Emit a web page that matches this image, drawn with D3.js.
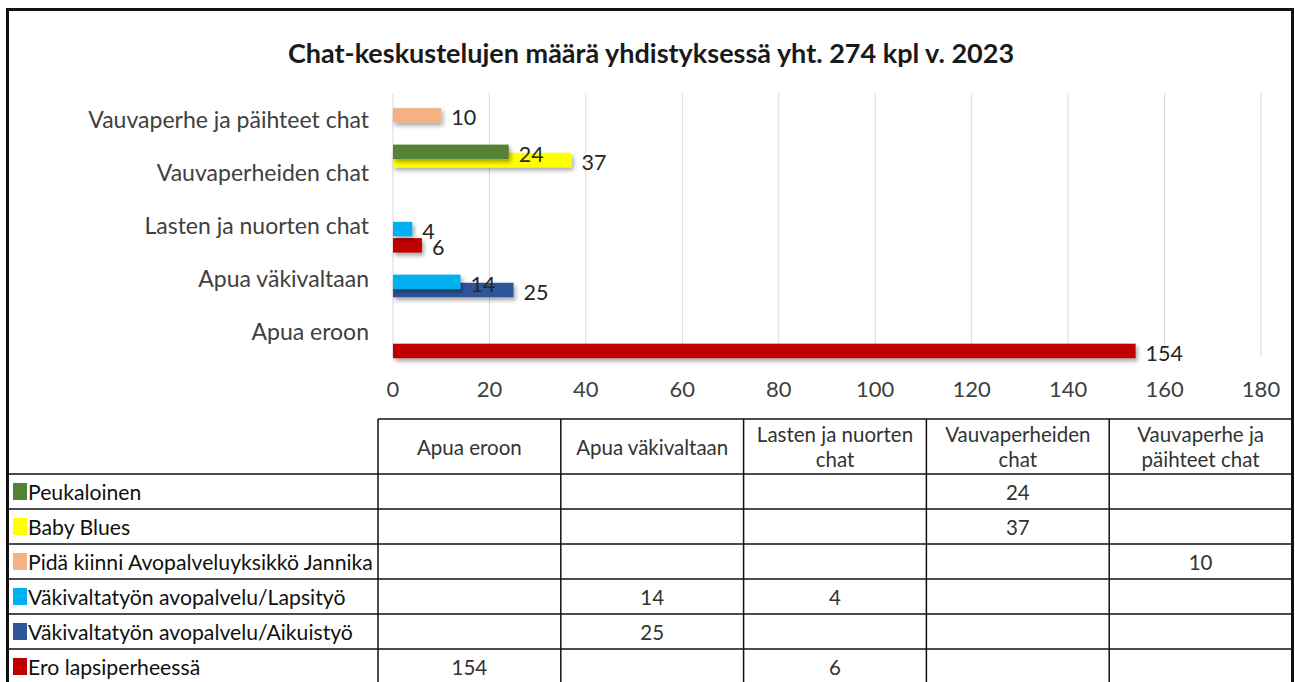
<!DOCTYPE html>
<html><head><meta charset="utf-8">
<script src="https://cdn.jsdelivr.net/npm/d3@7"></script>
<style>body{margin:0;background:#fff} svg{display:block} text{font-family:Lato, "Open Sans", sans-serif}</style>
</head><body><svg id="c" width="1295" height="682"></svg>
<script>
// ---- data ----
const title = "Chat-keskustelujen määrä yhdistyksessä yht. 274 kpl v. 2023";
const categories = ["Apua eroon", "Apua väkivaltaan", "Lasten ja nuorten chat", "Vauvaperheiden chat", "Vauvaperhe ja päihteet chat"];
const tableHeaders = [["Apua eroon"], ["Apua väkivaltaan"], ["Lasten ja nuorten", "chat"], ["Vauvaperheiden", "chat"], ["Vauvaperhe ja", "päihteet chat"]];
const seriesNames = ["Peukaloinen", "Baby Blues", "Pidä kiinni Avopalveluyksikkö Jannika", "Väkivaltatyön avopalvelu/Lapsityö", "Väkivaltatyön avopalvelu/Aikuistyö", "Ero lapsiperheessä"];
const peukaloinen = [null, null, null, 24, null];
const babyBlues = [null, null, null, 37, null];
const pidaKiinni = [null, null, null, null, 10];
const lapsityo = [null, 14, 4, null, null];
const aikuistyo = [null, 25, null, null, null];
const eroLapsiperheessa = [154, null, 6, null, null];
const seriesColors = ["#548235", "#ffff00", "#f4b183", "#00b0f0", "#2f5597", "#c00000"];
const xTicks = [0, 20, 40, 60, 80, 100, 120, 140, 160, 180];

const seriesValues = [peukaloinen, babyBlues, pidaKiinni, lapsityo, aikuistyo, eroLapsiperheessa];
const series = seriesNames.map((name, i) => ({name, color: seriesColors[i], values: seriesValues[i]}));

// ---- layout ----
const svg = d3.select("#c");
const plotTop = 93, plotBottom = 357;
const x = d3.scaleLinear().domain([0, 180]).range([393, 1261]);
const y = d3.scaleBand().domain(categories).range([plotBottom, plotTop]);
const barH = 14.5;
const sub = d3.scalePoint().domain(seriesNames).range([-1.2, y.bandwidth() - barH + 1.2]);

const defs = svg.append("defs");
const f = defs.append("filter").attr("id", "sh").attr("x", "-10%").attr("y", "-50%").attr("width", "130%").attr("height", "250%");
f.append("feDropShadow").attr("dx", 2).attr("dy", 3).attr("stdDeviation", 2).attr("flood-color", "#000").attr("flood-opacity", 0.35);

// frame
svg.append("rect").attr("x", 7.5).attr("y", 9.5).attr("width", 1285).attr("height", 690)
  .attr("fill", "none").attr("stroke", "#111").attr("stroke-width", 3);

// title
svg.append("text").attr("x", 651).attr("y", 52).attr("text-anchor", "middle").attr("dominant-baseline", "central")
  .attr("font-size", 27).attr("font-weight", "bold").attr("fill", "#1a1a1a").text(title);

// gridlines
svg.append("g").selectAll("line").data(xTicks).join("line")
  .attr("x1", d => x(d)).attr("x2", d => x(d)).attr("y1", plotTop).attr("y2", plotBottom)
  .attr("stroke", "#d9d9d9").attr("stroke-width", 1);

// tick labels
svg.append("g").selectAll("text").data(xTicks).join("text")
  .attr("x", d => x(d)).attr("y", 388).attr("text-anchor", "middle").attr("dominant-baseline", "central")
  .attr("font-size", 22).attr("fill", "#404040").text(d => d);

// category labels
svg.append("g").selectAll("text").data(categories).join("text")
  .attr("x", 369).attr("y", d => y(d) + y.bandwidth() / 2).attr("text-anchor", "end").attr("dominant-baseline", "central")
  .attr("font-size", 23).attr("fill", "#404040").text(d => d);

// bars
const barData = [];
series.forEach(s => s.values.forEach((v, i) => { if (v != null) barData.push({s, cat: categories[i], v}); }));
const drawOrder = barData.slice().sort((a, b) => seriesNames.indexOf(b.s.name) - seriesNames.indexOf(a.s.name));
svg.append("g").selectAll("rect").data(drawOrder).join("rect")
  .attr("x", x(0)).attr("y", d => y(d.cat) + sub(d.s.name)).attr("width", d => x(d.v) - x(0)).attr("height", barH)
  .attr("fill", d => d.s.color).attr("filter", "url(#sh)");
svg.append("g").selectAll("text").data(drawOrder).join("text")
  .attr("x", d => x(d.v) + 10).attr("y", d => y(d.cat) + sub(d.s.name) + barH / 2 + 2).attr("dominant-baseline", "central")
  .attr("font-size", 21.5).attr("fill", "#262626").text(d => d.v);

// ---- data table ----
const tTop = 419, hBottom = 474, tRight = 1292, tLeft = 8;
const col = d3.scaleBand().domain(categories).range([378, tRight]);
const row = d3.scaleBand().domain(seriesNames).range([hBottom, hBottom + 35 * seriesNames.length]);
const tg = svg.append("g");
function line(x1, y1, x2, y2) {
  tg.append("line").attr("x1", x1).attr("y1", y1).attr("x2", x2).attr("y2", y2).attr("stroke", "#111").attr("stroke-width", 1.5);
}
line(378, tTop, tRight, tTop);
seriesNames.forEach(s => line(tLeft, row(s), tRight, row(s)));
categories.forEach(c => line(col(c), tTop, col(c), 690));
line(tRight, tTop, tRight, 690);

// headers
categories.forEach((c, i) => {
  const lines = tableHeaders[i];
  const cx = col(c) + col.bandwidth() / 2;
  lines.forEach((t, j) => {
    const cy = lines.length === 1 ? (tTop + hBottom) / 2 : (tTop + hBottom) / 2 + (j - 0.5) * 25;
    tg.append("text").attr("x", cx).attr("y", cy).attr("text-anchor", "middle").attr("dominant-baseline", "central")
      .attr("font-size", 20.5).attr("fill", "#333").text(t);
  });
});
// legend rows
series.forEach(s => {
  const cy = row(s.name) + row.bandwidth() / 2;
  tg.append("rect").attr("x", 13).attr("y", cy - 8.5).attr("width", 14).attr("height", 17).attr("fill", s.color);
  tg.append("text").attr("x", 28).attr("y", cy).attr("dominant-baseline", "central").attr("font-size", 21.2).attr("fill", "#111").text(s.name);
  s.values.forEach((v, i) => {
    if (v == null) return;
    tg.append("text").attr("x", col(categories[i]) + col.bandwidth() / 2).attr("y", cy).attr("text-anchor", "middle")
      .attr("dominant-baseline", "central").attr("font-size", 20.5).attr("fill", "#333").text(v);
  });
});
</script></body></html>
